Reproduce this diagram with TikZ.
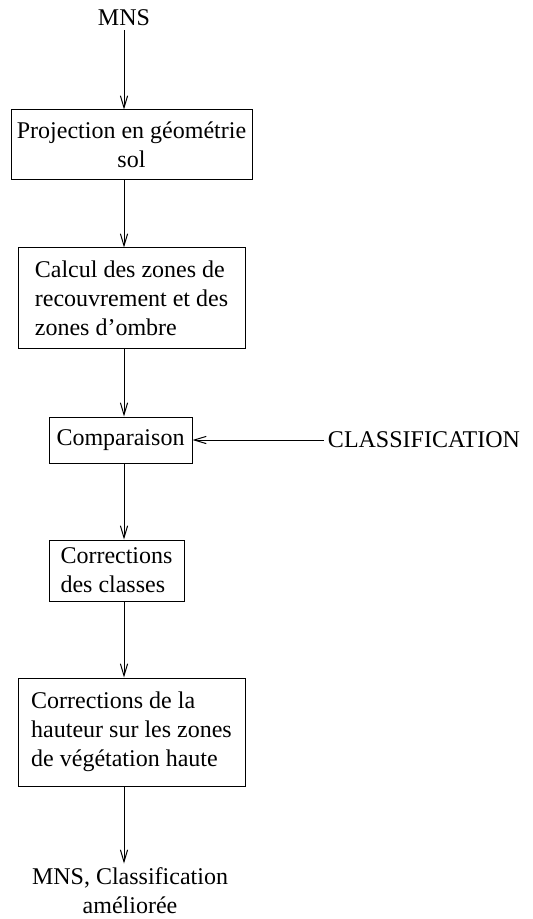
\documentclass[tikz,border=0pt]{standalone}
\usepackage{fontspec}
\setmainfont{Liberation Serif}
\usetikzlibrary{arrows.meta,positioning}
\tikzset{
  stepbox/.style={draw, line width=0.5pt, inner sep=0pt, font=\fontsize{12}{14.5}\selectfont},
  stepleft/.style={stepbox, align=left},
  stepmid/.style={stepbox, align=center},
  steplabel/.style={align=center, inner sep=2pt, font=\fontsize{12}{14.5}\selectfont},
  steparrow/.style={-{Straight Barb[length=6pt,width=3.6pt]}, line width=0.5pt}
}
\begin{document}
\begin{tikzpicture}[x=0.5pt, y=-0.5pt]
\useasboundingbox (0,0) rectangle (533,919);
\node[steplabel] (mnsin) at (124,18) {MNS};
\node[stepmid, minimum width=120.5pt, minimum height=35pt] (proj) at (131.5,145) {Projection en géométrie\\sol};
\node[stepleft, minimum width=113.5pt, minimum height=50pt] (calcul) at (131.5,298) {Calcul des zones de\\recouvrement et des\\zones d'ombre};
\node[stepmid, minimum width=71.5pt, minimum height=23pt] (comp) at (120.5,440) {Comparaison};
\node[steplabel] (classif) at (424,440) {CLASSIFICATION};
\node[stepleft, minimum width=67.5pt, minimum height=30.5pt] (corr) at (116.5,570.5) {Corrections\\des classes};
\node[stepleft, minimum width=113.5pt, minimum height=54pt] (haut) at (131.5,732) {Corrections de la\\hauteur sur les zones\\de végétation haute};
\node[steplabel] (mnsout) at (130,891) {MNS, Classification\\améliorée};

\draw[steparrow] (mnsin) -- (mnsin |- proj.north);
\draw[steparrow] (mnsin |- proj.south) -- (mnsin |- calcul.north);
\draw[steparrow] (mnsin |- calcul.south) -- (mnsin |- comp.north);
\draw[steparrow] (mnsin |- comp.south) -- (mnsin |- corr.north);
\draw[steparrow] (mnsin |- corr.south) -- (mnsin |- haut.north);
\draw[steparrow] (mnsin |- haut.south) -- (mnsin |- mnsout.north);
\draw[steparrow] (classif) -- (comp);
\end{tikzpicture}
\end{document}
